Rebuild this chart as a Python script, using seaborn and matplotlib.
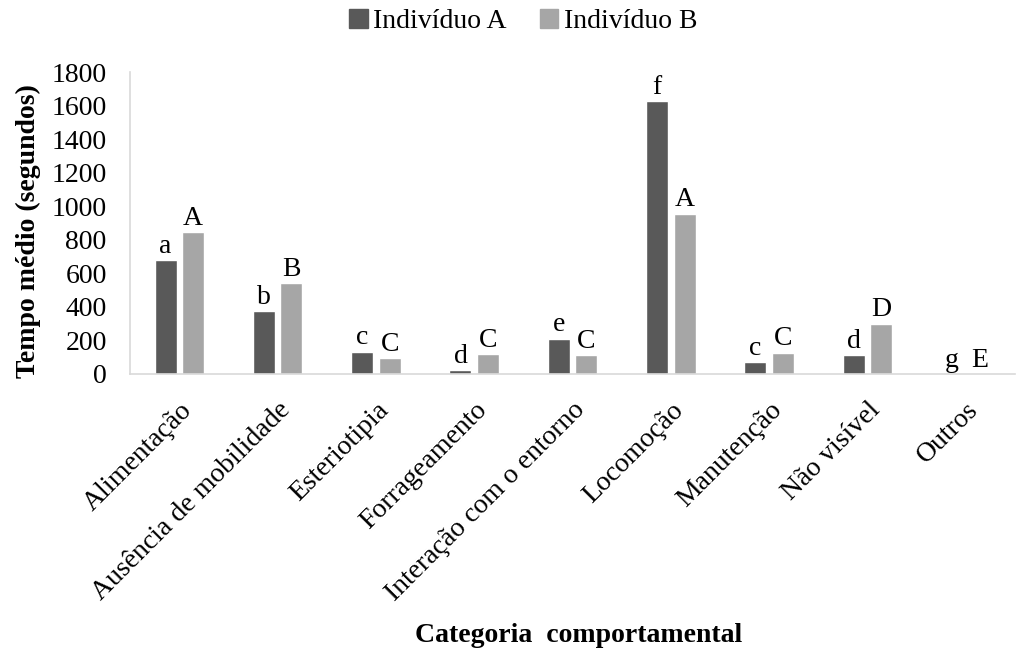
import matplotlib
matplotlib.use("Agg")
import matplotlib.pyplot as plt
import seaborn as sns
import pandas as pd

categorias = ["Alimentação", "Ausência de mobilidade", "Esteriotipia", "Forrageamento",
              "Interação com o entorno", "Locomoção", "Manutenção", "Não visível", "Outros"]
individuo_a = [680, 375, 132, 23, 210, 1625, 70, 110, 0]
individuo_b = [845, 540, 93, 118, 110, 956, 127, 300, 0]
letras_a = ["a", "b", "c", "d", "e", "f", "c", "d", "g"]
letras_b = ["A", "B", "C", "C", "C", "A", "C", "D", "E"]
series = ["Indivíduo A", "Indivíduo B"]
cores = ["#595959", "#A6A6A6"]

df = pd.DataFrame({
    "Categoria": categorias * 2,
    "Tempo": individuo_a + individuo_b,
    "Indivíduo": [series[0]] * len(categorias) + [series[1]] * len(categorias),
})

sns.set_theme(style="white")
plt.rcParams["font.family"] = ["Liberation Serif", "DejaVu Serif"]
plt.rcParams["text.color"] = "black"
plt.rcParams["axes.labelcolor"] = "black"
plt.rcParams["xtick.color"] = "black"
plt.rcParams["ytick.color"] = "black"

fig = plt.figure(figsize=(10.26, 6.56), dpi=100)
ax = fig.add_axes([0.127, 0.430, 0.862, 0.460])

sns.barplot(data=df, x="Categoria", y="Tempo", hue="Indivíduo", order=categorias,
            hue_order=series, palette=cores, width=0.56, gap=0.2, ax=ax,
            saturation=1, legend=False)

for cont, letras in zip(ax.containers, [letras_a, letras_b]):
    ax.bar_label(cont, labels=letras, padding=1, fontsize=20, color="black")

ax.set_ylim(0, 1800)
ax.set_yticks(range(0, 1801, 200))
ax.tick_params(axis="y", labelsize=20, length=0, pad=17)
ax.tick_params(axis="x", labelsize=20, length=0, pad=17)
for lbl in ax.get_xticklabels():
    lbl.set_rotation(45)
    lbl.set_ha("right")
    lbl.set_rotation_mode("anchor")

for s in ["top", "right"]:
    ax.spines[s].set_visible(False)
for s in ["left", "bottom"]:
    ax.spines[s].set_color("#D9D9D9")
    ax.spines[s].set_linewidth(1.2)

ax.set_ylabel("Tempo médio (segundos)", fontsize=20, fontweight="bold", va="center")
ax.yaxis.set_label_coords(-0.115, 0.473)
ax.set_xlabel("Categoria  comportamental", fontsize=20, fontweight="bold", va="center")
ax.xaxis.set_label_coords(0.507, -0.868)

handles = [plt.Rectangle((0, 0), 1, 1, color=c) for c in cores]
fig.legend(handles, series, loc="center", bbox_to_anchor=(0.51, 0.967), ncol=2,
           frameon=False, fontsize=20, handlelength=0.65, handleheight=0.65,
           handletextpad=0.2, columnspacing=1.2, borderpad=0)

fig.savefig("out.png", dpi=100)
